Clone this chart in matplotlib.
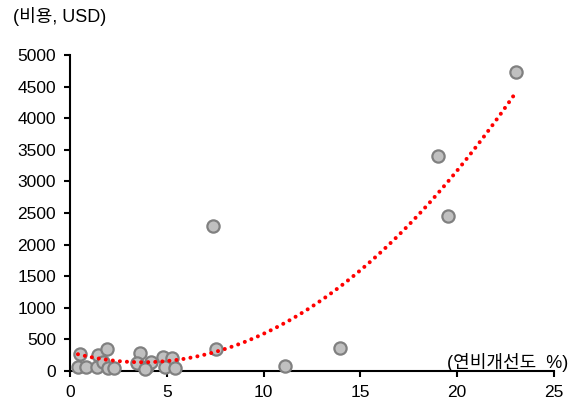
import numpy as np
import matplotlib.pyplot as plt

plt.rcParams['font.family'] = ['Liberation Sans', 'Noto Sans CJK KR']

# fuel-economy improvement (%) vs. cost (USD)
improve = [0.52, 0.41, 0.82, 1.44, 1.91, 1.39, 1.70, 1.96, 2.27,
           3.61, 3.45, 3.97, 4.18, 3.87, 4.79, 5.26, 4.90, 5.41,
           7.53, 7.37, 11.13, 13.97, 19.02, 19.54, 23.04]
cost = [268, 63, 63, 252, 347, 63, 142, 47, 47,
        284, 126, 63, 142, 32, 221, 205, 63, 47,
        347, 2287, 79, 363, 3407, 2445, 4732]

x = np.array(improve)
y = np.array(cost)

# 2nd order polynomial trend
coef = np.polyfit(x, y, 2)
xt = np.linspace(x.min(), x.max(), 200)
yt = np.polyval(coef, xt)

fig = plt.figure(figsize=(5.79, 4.01), dpi=100)
ax = fig.add_axes([70/579, 30/401, 484/579, 316/401])

ax.scatter(x, y, s=78, c='#c0c0c0', edgecolors='#808080', linewidths=1.6, zorder=3, clip_on=False)
ax.plot(xt, yt, color='#ff0000', lw=2.9, ls=(0, (0.01, 1.75)), dash_capstyle='round', zorder=4)

ax.set_xlim(0, 25)
ax.set_ylim(0, 5000)
ax.set_xticks([0, 5, 10, 15, 20, 25])
ax.set_yticks(np.arange(0, 5001, 500))
for s in ['top', 'right']:
    ax.spines[s].set_visible(False)
for s in ['left', 'bottom']:
    ax.spines[s].set_linewidth(1.5)
ax.tick_params(direction='out', length=4, width=1.5, labelsize=12.5, pad=6)

fig.text(13/579, 1 - 16/401, '(비용, USD)', fontsize=13, va='center', ha='left')
fig.text(568/579, 1 - 362/401, '(연비개선도  %)', fontsize=13, va='center', ha='right')

fig.savefig('out.png', dpi=100)
